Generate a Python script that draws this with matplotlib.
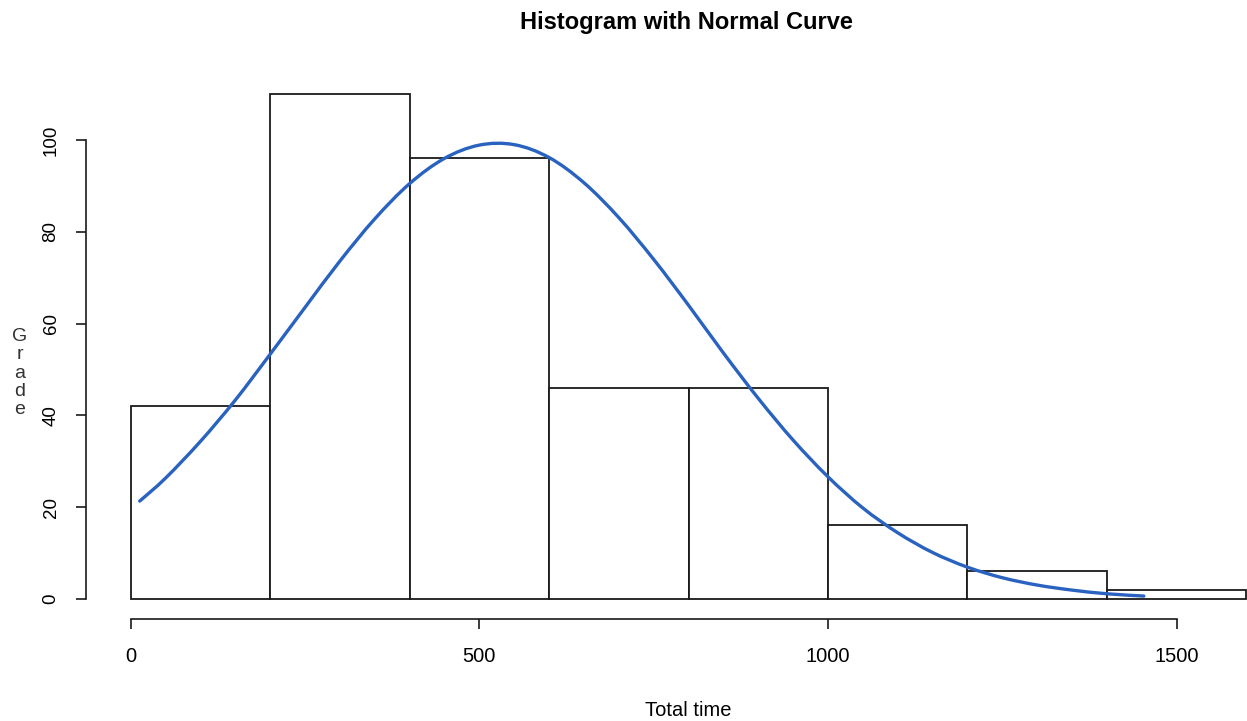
import matplotlib
matplotlib.use("Agg")
import numpy as np
import matplotlib.pyplot as plt
from matplotlib.path import Path
from matplotlib.patches import PathPatch

# histogram bins (Total time) and counts
bin_edges = [0, 200, 400, 600, 800, 1000, 1200, 1400, 1600]
counts = [42, 110, 96, 46, 46, 16, 6, 2]

# normal curve
curve_x = [13, 50, 100, 150, 200, 250, 300, 350, 400, 450, 500, 550, 600, 650, 700,
           750, 800, 850, 900, 950, 1000, 1050, 1100, 1150, 1200, 1250, 1300, 1350,
           1400, 1453]
curve_y = [21.3, 26.3, 34.3, 43.3, 53.3, 63.5, 73.6, 82.8, 90.5, 96.0, 98.9, 99.0,
           96.2, 90.7, 83.1, 74.0, 64.0, 53.6, 43.7, 34.6, 26.6, 19.8, 14.4, 10.1,
           6.9, 4.6, 3.0, 1.9, 1.1, 0.6]

x_ticks = [0, 500, 1000, 1500]
y_ticks = [0, 20, 40, 60, 80, 100]


def smooth_path(xs, ys):
    # catmull-rom through the read points, drawn as bezier segments
    pts = np.column_stack([xs, ys]).astype(float)
    n = len(pts)
    verts = [pts[0]]
    codes = [Path.MOVETO]
    for i in range(n - 1):
        p0 = pts[max(i - 1, 0)]
        p1 = pts[i]
        p2 = pts[i + 1]
        p3 = pts[min(i + 2, n - 1)]
        verts += [p1 + (p2 - p0) / 6, p2 - (p3 - p1) / 6, p2]
        codes += [Path.CURVE4] * 3
    return Path(verts, codes)


plt.rcParams['font.family'] = ['Liberation Sans', 'DejaVu Sans']

W, H = 1247, 721
fig = plt.figure(figsize=(W / 100, H / 100), dpi=100)
ax = fig.add_axes([86 / W, 102 / H, (1291 - 86) / W, (619 - 74) / H])

ax.bar(bin_edges[:-1], counts, width=np.diff(bin_edges), align='edge',
       facecolor='white', edgecolor='#1a1a1a', linewidth=1.3)
ax.add_patch(PathPatch(smooth_path(curve_x, curve_y), facecolor='none',
                       edgecolor='#2a62c0', linewidth=2.4, capstyle='round'))

ax.set_xlim(-64, 1664)
ax.set_ylim(-4.4, 114.4)

for s in ['top', 'right']:
    ax.spines[s].set_visible(False)
ax.spines['left'].set_bounds(0, 100)
ax.spines['bottom'].set_bounds(0, 1500)
for s in ['left', 'bottom']:
    ax.spines[s].set_linewidth(1.2)
    ax.spines[s].set_color('#1a1a1a')

ax.set_xticks(x_ticks)
ax.set_xticklabels([str(v) for v in x_ticks], fontsize=14.5)
ax.set_yticks(y_ticks)
ax.set_yticklabels([str(v) for v in y_ticks], fontsize=13.5, rotation=90, va='center')
ax.tick_params(axis='both', length=7, width=1.2, color='#1a1a1a')
ax.tick_params(axis='x', pad=13)
ax.tick_params(axis='y', pad=12)

fig.text(686 / W, 1 - 22 / H, "Histogram with Normal Curve", ha='center', va='center',
         fontsize=17, fontweight='bold')
fig.text(688 / W, 1 - 710 / H, "Total time", ha='center', va='center', fontsize=14.5)
fig.text(20 / W, 1 - 373 / H, "G\nr\na\nd\ne", ha='center', va='center', fontsize=14,
         linespacing=1.1, color='#333333')

fig.savefig("out.png", dpi=100)
